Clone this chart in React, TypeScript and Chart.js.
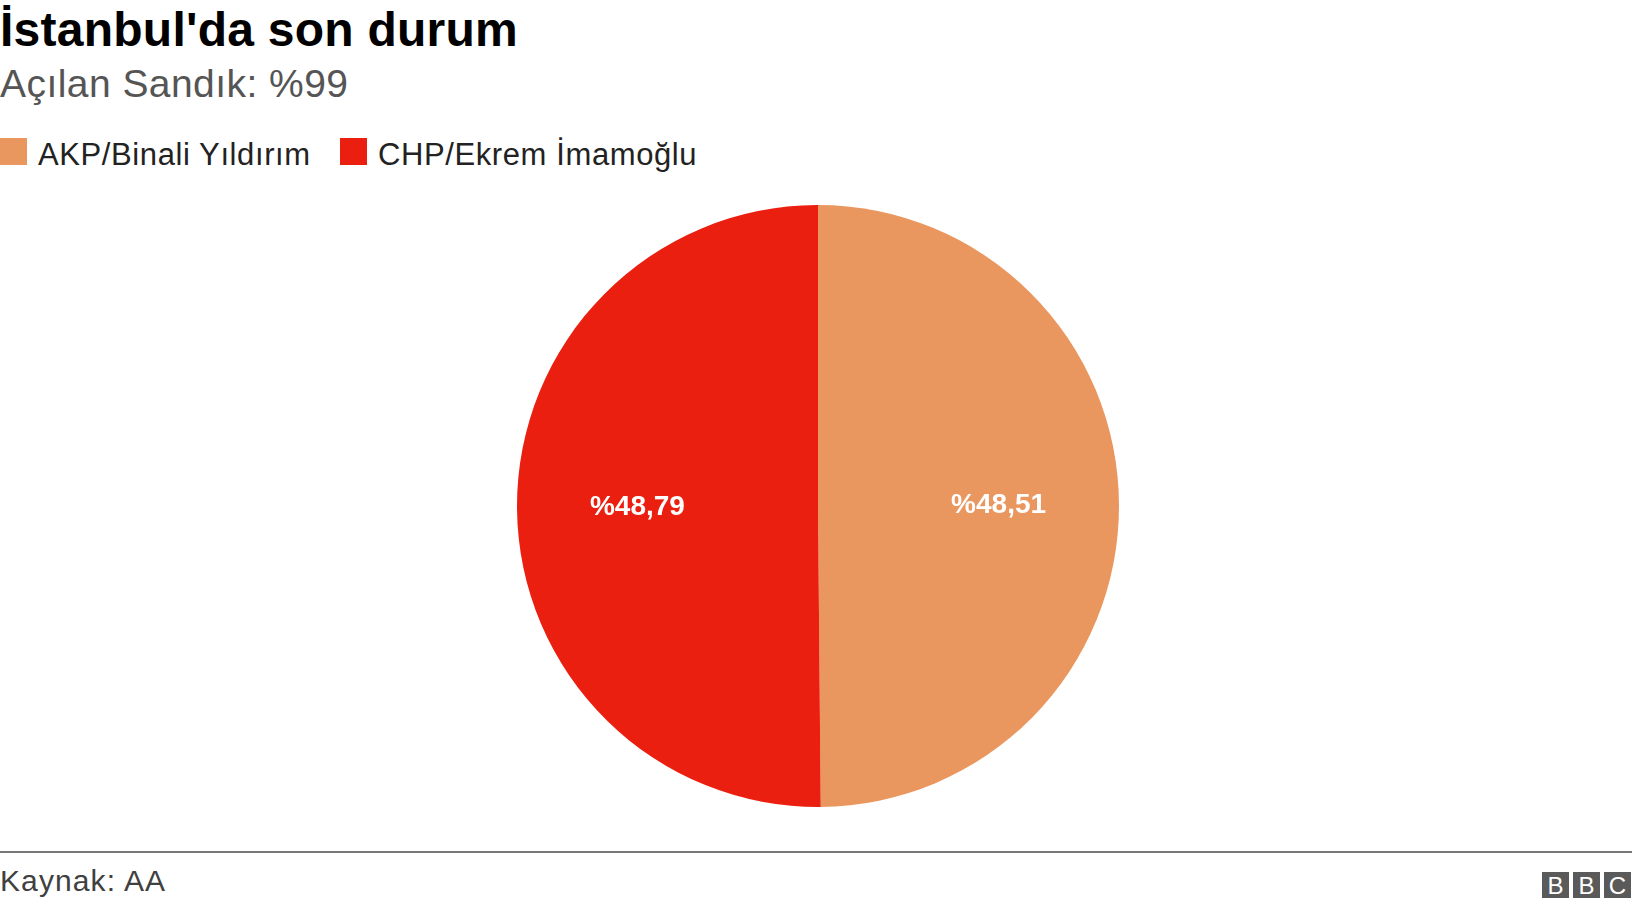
import React, { useEffect, useRef } from "react";
import { Chart, registerables } from "chart.js";

Chart.register(...registerables);

const titleText = "İstanbul'da son durum";
const subtitleText = "Açılan Sandık: %99";
const categories = ["AKP/Binali Yıldırım", "CHP/Ekrem İmamoğlu"];
const values = [48.51, 48.79];
const colors = ["#ea965f", "#eb1f10"];
const sourceText = "Kaynak: AA";
const logoLetters = ["B", "B", "C"];

const FONT = "'Liberation Sans', Arial, Helvetica, sans-serif";

const fmt = (v: number) => "%" + v.toFixed(2).replace(".", ",");

const sliceLabels = {
  id: "sliceLabels",
  afterDatasetsDraw(chart: any) {
    const ctx = chart.ctx;
    const meta = chart.getDatasetMeta(0);
    ctx.save();
    ctx.fillStyle = "#ffffff";
    ctx.font = `bold 28px ${FONT}`;
    ctx.textAlign = "center";
    ctx.textBaseline = "middle";
    meta.data.forEach((arc: any, i: number) => {
      const p = arc.getProps(["x", "y", "startAngle", "endAngle", "outerRadius"], true);
      const mid = (p.startAngle + p.endAngle) / 2;
      const r = p.outerRadius * 0.6;
      ctx.fillText(fmt(values[i]), p.x + Math.cos(mid) * r, p.y + Math.sin(mid) * r);
    });
    ctx.restore();
  },
};

export default function App() {
  const canvasRef = useRef<HTMLCanvasElement | null>(null);

  useEffect(() => {
    document.body.style.margin = "0";
    const chart = new Chart(canvasRef.current as HTMLCanvasElement, {
      type: "pie",
      data: {
        labels: categories,
        datasets: [
          {
            data: values,
            backgroundColor: colors,
            borderWidth: 0,
            hoverOffset: 0,
          },
        ],
      },
      options: {
        animation: false,
        responsive: true,
        maintainAspectRatio: false,
        layout: { padding: { left: 4 } },
        events: [],
        plugins: {
          legend: { display: false },
          title: { display: false },
          tooltip: { enabled: false },
        },
      },
      plugins: [sliceLabels],
    });
    return () => chart.destroy();
  }, []);

  const abs = (o: any) => ({ position: "absolute" as const, ...o });

  return (
    <div
      style={{
        position: "fixed",
        left: 0,
        top: 0,
        width: 1632,
        height: 908,
        background: "#ffffff",
        fontFamily: FONT,
        overflow: "hidden",
      }}
    >
      <div style={abs({ left: 0, top: 6, fontSize: 48, lineHeight: "48px", fontWeight: "bold", color: "#000", whiteSpace: "nowrap", letterSpacing: "0.25px" })}>
        {titleText}
      </div>
      <div style={abs({ left: 0, top: 64, fontSize: 39, lineHeight: "39px", color: "#555555", whiteSpace: "nowrap", letterSpacing: "0.45px" })}>
        {subtitleText}
      </div>
      {categories.map((c, i) => (
        <React.Fragment key={c}>
          <div style={abs({ left: i === 0 ? 0 : 340, top: 138, width: 27, height: 27, background: colors[i] })} />
          <div
            style={abs({
              left: i === 0 ? 38 : 378,
              top: 139,
              fontSize: 31,
              lineHeight: "31px",
              color: "#222222",
              whiteSpace: "nowrap",
              letterSpacing: "0.6px",
            })}
          >
            {c}
          </div>
        </React.Fragment>
      ))}
      <div style={abs({ left: 0, top: 205, width: 1632, height: 602 })}>
        <canvas ref={canvasRef} />
      </div>
      <div style={abs({ left: 0, top: 851, width: 1632, height: 2, background: "#777777" })} />
      <div style={abs({ left: 0, top: 866, fontSize: 30, lineHeight: "30px", color: "#404040", whiteSpace: "nowrap", letterSpacing: "1.1px" })}>
        {sourceText}
      </div>
      {logoLetters.map((l, i) => (
        <div
          key={i}
          style={abs({
            left: 1542 + i * 31,
            top: 872,
            width: 27,
            height: 26,
            background: "#5a5a5a",
            color: "#ffffff",
            fontSize: 24,
            lineHeight: "27px",
            textAlign: "center",
          })}
        >
          {l}
        </div>
      ))}
    </div>
  );
}
